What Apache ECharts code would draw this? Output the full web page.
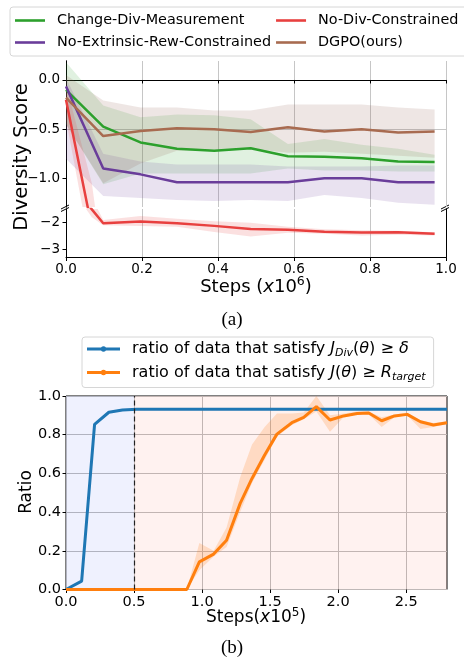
<!DOCTYPE html>
<html><head><meta charset="utf-8">
<script src="https://cdn.jsdelivr.net/npm/echarts@6/dist/echarts.min.js"></script>
<style>html,body{margin:0;padding:0;background:#fff}#c{width:464px;height:663px}</style>
</head><body><div id="c"></div>
<script>
// ---------- (a) Diversity score ----------
const stepsA = [0, 0.098, 0.196, 0.292, 0.39, 0.486, 0.584, 0.68, 0.778, 0.874, 0.97];
const changeDiv   = [-0.10, -0.475, -0.635, -0.70, -0.72, -0.695, -0.775, -0.78, -0.795, -0.83, -0.835];
const changeDivHi = [0.18, -0.26, -0.38, -0.35, -0.36, -0.40, -0.65, -0.60, -0.66, -0.70, -0.76];
const changeDivLo = [-0.45, -1.06, -0.95, -0.95, -0.95, -0.95, -0.90, -0.92, -0.92, -0.93, -0.93];
const noExt   = [-0.065, -0.90, -0.96, -1.04, -1.04, -1.04, -1.04, -1.00, -1.00, -1.04, -1.04];
const noExtHi = [0.02, -0.75, -0.83, -0.86, -0.86, -0.86, -0.88, -0.88, -0.88, -0.87, -0.87];
const noExtLo = [-0.80, -1.18, -1.20, -1.22, -1.23, -1.22, -1.23, -1.17, -1.20, -1.25, -1.27];
const dgpo   = [-0.18, -0.57, -0.52, -0.49, -0.50, -0.53, -0.48, -0.525, -0.50, -0.535, -0.525];
const dgpoHi = [0.05, -0.21, -0.28, -0.28, -0.31, -0.31, -0.25, -0.25, -0.25, -0.28, -0.30];
const dgpoLo = [-0.45, -1.05, -0.85, -0.72, -0.71, -0.70, -0.74, -0.73, -0.75, -0.77, -0.79];
const stepsRed = [0, 0.068, 0.098, 0.196, 0.292, 0.39, 0.486, 0.584, 0.68, 0.778, 0.874, 0.97];
const noDiv   = [-0.20, -1.50, -2.02, -1.96, -2.02, -2.12, -2.24, -2.27, -2.34, -2.37, -2.36, -2.42];
const noDivHi = [-0.05, -1.05, -1.90, -1.75, -1.85, -1.95, -2.00, -2.15, -2.25, -2.28, -2.30, -2.36];
const noDivLo = [-0.40, -1.80, -2.10, -2.12, -2.15, -2.35, -2.52, -2.38, -2.42, -2.48, -2.45, -2.48];
const xTicksA = [0, 0.2, 0.4, 0.6, 0.8, 1.0];
const yTicksUpper = [-1.0, -0.5, 0.0];
const yTicksLower = [-3, -2];

// ---------- (b) Ratio ----------
const stepsBlue = [0, 0.115, 0.21, 0.315, 0.415, 0.52, 1.0, 1.5, 2.0, 2.5, 2.8];
const ratioDiv  = [0, 0.043, 0.853, 0.916, 0.928, 0.931, 0.931, 0.931, 0.931, 0.931, 0.931];
const stepsOrange = [0, 0.1, 0.2, 0.3, 0.4, 0.5, 0.6, 0.7, 0.8, 0.888, 0.98, 1.085, 1.18, 1.28, 1.367, 1.46, 1.55, 1.66, 1.747, 1.84, 1.94, 2.04, 2.14, 2.225, 2.32, 2.414, 2.507, 2.605, 2.70, 2.80];
const ratioR   = [0, 0, 0, 0, 0, 0, 0, 0, 0, 0, 0.143, 0.183, 0.255, 0.445, 0.574, 0.695, 0.803, 0.862, 0.89, 0.945, 0.876, 0.897, 0.91, 0.912, 0.872, 0.897, 0.905, 0.867, 0.85, 0.862];
const ratioRHi = [0, 0, 0, 0, 0, 0, 0, 0, 0, 0, 0.24, 0.20, 0.32, 0.58, 0.75, 0.84, 0.91, 0.91, 0.915, 1.0, 0.90, 0.91, 0.92, 0.92, 0.89, 0.905, 0.915, 0.875, 0.86, 0.87];
const ratioRLo = [0, 0, 0, 0, 0, 0, 0, 0, 0, 0, 0.10, 0.17, 0.22, 0.40, 0.55, 0.67, 0.79, 0.85, 0.88, 0.92, 0.815, 0.89, 0.905, 0.905, 0.84, 0.89, 0.90, 0.83, 0.84, 0.855];
const phaseSplit = 0.5;

const FONT = 'DejaVu Sans';
const C = {green:'#2ca02c', purple:'#6a3d9a', red:'#e8403f', brown:'#a86b50', blue:'#1f77b4', orange:'#ff7f0e'};
const N = {cd:'Change-Div-Measurement', ne:'No-Extrinsic-Rew-Constrained', nd:'No-Div-Constrained', dg:'DGPO(ours)',
           b1:'ratio of data that satisfy J_Div(θ) ≥ δ', b2:'ratio of data that satisfy J(θ) ≥ R_target'};
const minus = s => s.replace('-', '\u2212');

function band(xs, lo, hi, color, xi, yi) {
  return {
    type:'custom', xAxisIndex:xi, yAxisIndex:yi, silent:true, z:1,
    data: xs.map((x,i)=>[x, lo[i], hi[i]]),
    encode:{x:0, y:[1,2]},
    renderItem(params, api) {
      if (params.dataIndex !== 0) return null;
      const pts = [];
      for (let i=0;i<xs.length;i++) pts.push(api.coord([xs[i], hi[i]]));
      for (let i=xs.length-1;i>=0;i--) pts.push(api.coord([xs[i], lo[i]]));
      const cs = params.coordSys;
      return {type:'group', clipPath:{type:'rect', shape:{x:cs.x, y:cs.y, width:cs.width, height:cs.height}},
        children:[{type:'polygon', shape:{points:pts}, style:{fill:color}}]};
    }
  };
}
function line(name, xs, ys, color, xi, yi, w) {
  return {type:'line', name, xAxisIndex:xi, yAxisIndex:yi, data:xs.map((x,i)=>[x, ys[i]]),
    symbol:'none', lineStyle:{color, width:w}, itemStyle:{color}, z:3, clip:true};
}
const gridLine = {show:true, lineStyle:{color:'#c6c6c6', width:1}};
const tickStyle = {show:true, length:3.5, lineStyle:{color:'#000', width:1}};
const lbl = (size) => ({color:'#000', fontSize:size, fontFamily:FONT});
const richB = {
  g:{width:7},
  n:{fontSize:16, lineHeight:20, fontFamily:FONT, color:'#000'},
  i:{fontSize:16, lineHeight:20, fontStyle:'italic', fontFamily:FONT, color:'#000'},
  s:{fontSize:11, lineHeight:12, fontStyle:'italic', fontFamily:FONT, color:'#000', verticalAlign:'bottom'}
};

const option = {
  animation:false,
  textStyle:{fontFamily:FONT},
  grid:[
    {left:66, right:18, top:61, height:146},
    {left:66, right:18, top:209, height:48.5},
    {left:66, right:17, top:396, height:193.5, show:true, borderColor:'#000', borderWidth:1, backgroundColor:'transparent'}
  ],
  xAxis:[
    {type:'value', gridIndex:0, min:0, max:1, interval:0.2, position:'bottom', axisLine:{show:false},
      axisTick:tickStyle, axisLabel:{show:false}, splitLine:gridLine},
    {type:'value', gridIndex:0, min:0, max:1, position:'top', axisLine:{show:true, lineStyle:{color:'#000', width:1}},
      axisTick:{show:false}, axisLabel:{show:false}, splitLine:{show:false}},
    {type:'value', gridIndex:1, min:0, max:1, interval:0.2, position:'bottom', axisLine:{show:true, lineStyle:{color:'#000', width:1}},
      axisTick:tickStyle, axisLabel:Object.assign(lbl(13.5), {margin:5, formatter:v=>xTicksA.some(t=>Math.abs(t-v)<1e-6)?v.toFixed(1):''}), splitLine:gridLine},
    {type:'value', gridIndex:2, min:0, max:2.8, interval:0.5, axisLine:{show:false},
      axisTick:tickStyle, axisLabel:Object.assign(lbl(14.5), {margin:5, showMaxLabel:false, formatter:v=>Math.abs(v*2-Math.round(v*2))<1e-6?v.toFixed(1):''}),
      splitLine:Object.assign({}, gridLine, {showMaxLine:false, lineStyle:{color:'#bdbdbd', width:1}})}
  ],
  yAxis:[
    {type:'value', gridIndex:0, min:-1.292, max:0.193, splitNumber:3, axisLine:{show:true, lineStyle:{color:'#000', width:1}},
      axisTick:Object.assign({}, tickStyle, {customValues:yTicksUpper}),
      axisLabel:Object.assign(lbl(13.5), {margin:6, customValues:yTicksUpper, formatter:v=>minus(v.toFixed(1))}),
      splitLine:Object.assign({}, gridLine, {showMinLine:false, showMaxLine:false})},
    {type:'value', gridIndex:0, min:-1.292, max:0.193, position:'right', axisLine:{show:true, lineStyle:{color:'#000', width:1}},
      axisTick:{show:false}, axisLabel:{show:false}, splitLine:{show:false}},
    {type:'value', gridIndex:1, min:-3.31, max:-1.485, splitNumber:2, axisLine:{show:true, lineStyle:{color:'#000', width:1}},
      axisTick:Object.assign({}, tickStyle, {customValues:yTicksLower}),
      axisLabel:Object.assign(lbl(13.5), {margin:6, customValues:yTicksLower, formatter:v=>minus(String(Math.round(v)))}),
      splitLine:Object.assign({}, gridLine, {showMinLine:false, showMaxLine:false})},
    {type:'value', gridIndex:1, min:-3.31, max:-1.485, position:'right', axisLine:{show:true, lineStyle:{color:'#000', width:1}},
      axisTick:{show:false}, axisLabel:{show:false}, splitLine:{show:false}},
    {type:'value', gridIndex:2, min:0, max:1, interval:0.2, axisLine:{show:false},
      axisTick:tickStyle, axisLabel:Object.assign(lbl(14.5), {margin:5, formatter:v=>v.toFixed(1)}),
      splitLine:Object.assign({}, gridLine, {lineStyle:{color:'#bdbdbd', width:1}})}
  ],
  legend:[
    {orient:'vertical', left:10, top:7, height:40, padding:[5,30,5,5], itemGap:5, itemWidth:30, itemHeight:14,
      borderColor:'#d6d6d6', borderWidth:1, borderRadius:3, backgroundColor:'#fff',
      data:[N.cd, N.ne, N.nd, N.dg], icon:'path://M0,6L30,6L30,8.6L0,8.6Z',
      textStyle:{fontSize:14.4, lineHeight:17, color:'#000', padding:[0,0,0,7]}},
    {orient:'vertical', left:82, top:337, padding:[4,8,5,5], itemGap:5.5, itemWidth:33, itemHeight:20,
      borderColor:'#d6d6d6', borderWidth:1, borderRadius:3, backgroundColor:'#fff',
      data:[N.b1, N.b2],
      icon:'path://M0,8.5L33,8.5L33,11.5L0,11.5Z M19.2,10A2.7,2.7 0 1,1 13.8,10A2.7,2.7 0 1,1 19.2,10Z',
      formatter: name => name === N.b1
        ? '{g| }{n|ratio of data that satisfy }{i|J}{s|Div}{n|(}{i|θ}{n|) ≥ }{i|δ}'
        : '{g| }{n|ratio of data that satisfy }{i|J}{n|(}{i|θ}{n|) ≥ }{i|R}{s|target}',
      textStyle:{color:'#000', rich:richB}}
  ],
  series:[
    band(stepsA, changeDivLo, changeDivHi, 'rgba(44,160,44,0.15)', 0, 0),
    band(stepsA, noExtLo, noExtHi, 'rgba(106,61,154,0.15)', 0, 0),
    band(stepsA, dgpoLo, dgpoHi, 'rgba(140,86,75,0.15)', 0, 0),
    band(stepsRed, noDivLo, noDivHi, 'rgba(232,64,63,0.16)', 0, 0),
    band(stepsRed, noDivLo, noDivHi, 'rgba(232,64,63,0.16)', 2, 2),
    line(N.cd, stepsA, changeDiv, C.green, 0, 0, 2.5),
    line(N.ne, stepsA, noExt, C.purple, 0, 0, 2.5),
    line(N.nd, stepsRed, noDiv, C.red, 0, 0, 2.5),
    line(N.dg, stepsA, dgpo, C.brown, 0, 0, 2.5),
    line(N.nd, stepsRed, noDiv, C.red, 2, 2, 2.5),
    band(stepsOrange, ratioRLo, ratioRHi, 'rgba(255,127,14,0.2)', 3, 4),
    Object.assign(line(N.b1, stepsBlue, ratioDiv, C.blue, 3, 4, 3), {
      markArea:{silent:true, label:{show:false}, data:[
        [{xAxis:0, itemStyle:{color:'rgba(40,70,240,0.075)'}}, {xAxis:phaseSplit}],
        [{xAxis:phaseSplit, itemStyle:{color:'rgba(250,90,70,0.08)'}}, {xAxis:2.8}]
      ]},
      markLine:{silent:true, symbol:['none','none'], label:{show:false},
        lineStyle:{color:'#222', type:[5,3], width:1.2}, data:[{xAxis:phaseSplit}]}
    }),
    line(N.b2, stepsOrange, ratioR, C.orange, 3, 4, 3)
  ],
  graphic:[
    {type:'text', x:22, y:157, rotation:Math.PI/2, style:{text:'Diversity Score', fontSize:19.5, fontFamily:FONT, fill:'#000', align:'center', verticalAlign:'middle', textAlign:'center', textVerticalAlign:'middle'}},
    {type:'text', x:256, y:287, style:{text:'{n|Steps (}{i|x}{n|10}{p|6}{n|)}', align:'center', verticalAlign:'middle', textAlign:'center', textVerticalAlign:'middle',
      rich:{n:{fontSize:18, lineHeight:24, fontFamily:FONT, color:'#000'}, i:{fontSize:18, lineHeight:24, fontFamily:FONT, fontStyle:'italic', color:'#000'},
            p:{fontSize:12.5, lineHeight:14, fontFamily:FONT, color:'#000', verticalAlign:'top'}}}},
    {type:'text', x:232, y:320, style:{text:'(a)', fontSize:19, fontFamily:'Liberation Serif', fill:'#000', align:'center', verticalAlign:'middle', textAlign:'center', textVerticalAlign:'middle'}},
    {type:'text', x:27, y:492, rotation:Math.PI/2, style:{text:'Ratio', fontSize:17, fontFamily:FONT, fill:'#000', align:'center', verticalAlign:'middle', textAlign:'center', textVerticalAlign:'middle'}},
    {type:'text', x:256, y:618, style:{text:'{n|Steps(}{i|x}{n|10}{p|5}{n|)}', align:'center', verticalAlign:'middle', textAlign:'center', textVerticalAlign:'middle',
      rich:{n:{fontSize:17, lineHeight:22, fontFamily:FONT, color:'#000'}, i:{fontSize:17, lineHeight:22, fontFamily:FONT, fontStyle:'italic', color:'#000'},
            p:{fontSize:12, lineHeight:13, fontFamily:FONT, color:'#000', verticalAlign:'top'}}}},
    {type:'text', x:232, y:648, style:{text:'(b)', fontSize:19, fontFamily:'Liberation Serif', fill:'#000', align:'center', verticalAlign:'middle', textAlign:'center', textVerticalAlign:'middle'}},
    {type:'polyline', shape:{points:[[61,209],[69,205]]}, style:{stroke:'#000', lineWidth:1}},
    {type:'polyline', shape:{points:[[61,211.5],[69,207.5]]}, style:{stroke:'#000', lineWidth:1}},
    {type:'polyline', shape:{points:[[441,209],[449,205]]}, style:{stroke:'#000', lineWidth:1}},
    {type:'polyline', shape:{points:[[441,211.5],[449,207.5]]}, style:{stroke:'#000', lineWidth:1}}
  ]
};
const chart = echarts.init(document.getElementById('c'), null, {renderer:'canvas'});
chart.setOption(option);
</script></body></html>
